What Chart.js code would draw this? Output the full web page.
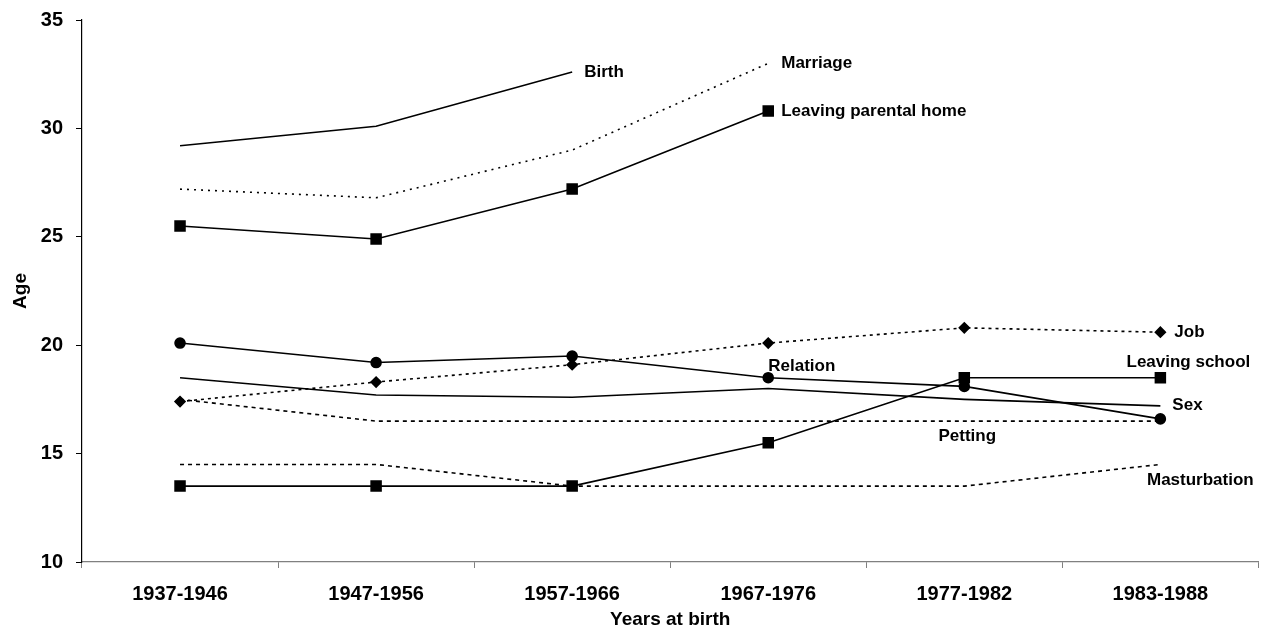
<!DOCTYPE html>
<html>
<head>
<meta charset="utf-8">
<script src="https://cdn.jsdelivr.net/npm/chart.js@4.4.1/dist/chart.umd.min.js"></script>
<style>
  html, body { margin: 0; padding: 0; background: #fff; }
  #wrap { width: 1267px; height: 641px; position: relative; }
</style>
</head>
<body>
<div id="wrap"><canvas id="ageChart"></canvas></div>
<script>
const cohorts = ['1937-1946', '1947-1956', '1957-1966', '1967-1976', '1977-1982', '1983-1988'];
const yTicks = [10, 15, 20, 25, 30, 35];

const birth = [29.2, 30.1, 32.6, null, null, null];
const marriage = [27.2, 26.8, 29.0, 33.0, null, null];
const leavingHome = [25.5, 24.9, 27.2, 30.8, null, null];
const job = [17.4, 18.3, 19.1, 20.1, 20.8, 20.6];
const relation = [20.1, 19.2, 19.5, 18.5, 18.1, 16.6];
const leavingSchool = [13.5, 13.5, 13.5, 15.5, 18.5, 18.5];
const sex = [18.5, 17.7, 17.6, 18.0, 17.5, 17.2];
const petting = [17.5, 16.5, 16.5, 16.5, 16.5, 16.5];
const masturbation = [14.5, 14.5, 13.5, 13.5, 13.5, 14.5];

const black = '#000';
const grey = '#808080';
const font = 'Liberation Sans, Arial, sans-serif';

function series(label, data, opts) {
  return Object.assign({
    label: label,
    data: data,
    borderColor: black,
    backgroundColor: black,
    borderWidth: 1.6,
    pointRadius: 0,
    pointHoverRadius: 0,
    tension: 0,
    spanGaps: false
  }, opts || {});
}

// where each series name is written: point index, offset, alignment
const tags = [
  { i: 2, dx: 12, dy: 0, align: 'left' },     // Birth
  { i: 3, dx: 13, dy: 0, align: 'left' },     // Marriage
  { i: 3, dx: 13, dy: 0, align: 'left' },     // Leaving parental home
  { i: 5, dx: 14, dy: 0, align: 'left' },     // Job
  { i: 5, dx: 28, dy: -15, align: 'center' }, // Leaving school
  { i: 3, dx: 0, dy: -11, align: 'left' },    // Relation
  { i: 5, dx: 12, dy: -1, align: 'left' },    // Sex
  { i: 4, dx: 3, dy: 15, align: 'center' },   // Petting
  { i: 5, dx: 40, dy: 16, align: 'center' }   // Masturbation
];

const tagPlugin = {
  id: 'tags',
  afterDatasetsDraw(chart) {
    const ctx = chart.ctx;
    ctx.save();
    ctx.font = 'bold 17px ' + font;
    ctx.fillStyle = black;
    ctx.textBaseline = 'middle';
    chart.data.datasets.forEach((ds, k) => {
      const t = tags[k];
      const pt = chart.getDatasetMeta(k).data[t.i];
      if (!pt) return;
      ctx.textAlign = t.align;
      ctx.fillText(ds.label, pt.x + t.dx, pt.y + t.dy);
    });
    ctx.restore();
  }
};

function noPad(axis) {
  axis.paddingLeft = 0;
  axis.paddingRight = 0;
  axis.paddingTop = 0;
  axis.paddingBottom = 0;
}

new Chart(document.getElementById('ageChart'), {
  type: 'line',
  data: {
    labels: cohorts,
    datasets: [
      series('Birth', birth),
      series('Marriage', marriage, { borderDash: [2, 5] }),
      series('Leaving parental home', leavingHome, { pointStyle: 'rect', pointRadius: 7 }),
      series('Job', job, { borderDash: [3, 4], pointStyle: 'rectRot', pointRadius: 5 }),
      series('Leaving school', leavingSchool, { pointStyle: 'rect', pointRadius: 7 }),
      series('Relation', relation, { pointStyle: 'circle', pointRadius: 5 }),
      series('Sex', sex),
      series('Petting', petting, { borderDash: [4, 4] }),
      series('Masturbation', masturbation, { borderDash: [4, 4] })
    ]
  },
  options: {
    responsive: true,
    maintainAspectRatio: false,
    animation: false,
    layout: { padding: { top: 20, right: 4, left: 0, bottom: 0 } },
    plugins: {
      legend: { display: false },
      tooltip: { enabled: false }
    },
    scales: {
      x: {
        offset: true,
        afterFit(axis) { axis.height = 79; noPad(axis); },
        grid: { display: true, offset: true, drawOnChartArea: false, drawTicks: true, tickLength: 6, color: grey },
        border: { display: true, color: grey, width: 1.2 },
        ticks: { color: black, font: { family: font, size: 20, weight: 'bold' }, padding: 14, maxRotation: 0 },
        title: { display: true, text: 'Years at birth', color: black, font: { family: font, size: 19, weight: 'bold' }, padding: { top: 0, bottom: 10 } }
      },
      y: {
        min: yTicks[0],
        max: yTicks[yTicks.length - 1],
        afterBuildTicks(axis) { axis.ticks = yTicks.map(v => ({ value: v })); },
        afterFit(axis) { axis.width = 82; noPad(axis); },
        grid: { display: true, drawOnChartArea: false, drawTicks: true, tickLength: 6, color: black },
        border: { display: true, color: black, width: 1.2 },
        ticks: { color: black, font: { family: font, size: 20, weight: 'bold' }, padding: 13 },
        title: { display: true, text: 'Age', color: black, font: { family: font, size: 19, weight: 'bold' }, padding: 9 }
      }
    }
  },
  plugins: [tagPlugin]
});
</script>
</body>
</html>
